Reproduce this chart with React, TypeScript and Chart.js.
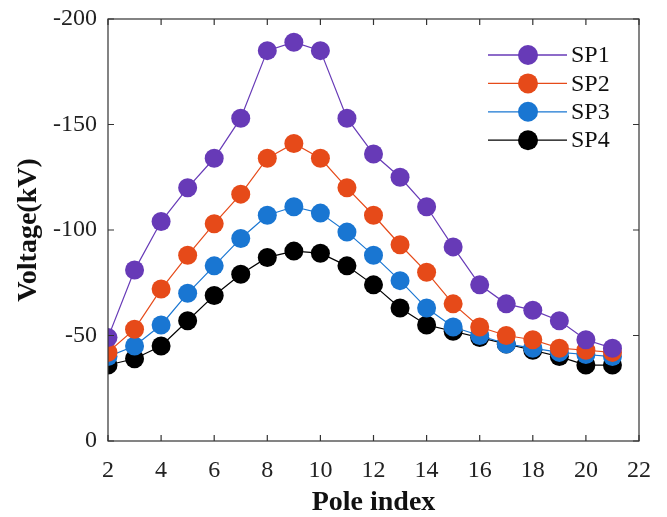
import React, { useEffect, useRef } from "react";
import { Chart, registerables } from "chart.js";

Chart.register(...registerables);

const poles = [2, 3, 4, 5, 6, 7, 8, 9, 10, 11, 12, 13, 14, 15, 16, 17, 18, 19, 20, 21];
const sp1 = [-49, -81, -104, -120, -134, -153, -185, -189, -185, -153, -136, -125, -111, -92, -74, -65, -62, -57, -48, -44];
const sp2 = [-42, -53, -72, -88, -103, -117, -134, -141, -134, -120, -107, -93, -80, -65, -54, -50, -48, -44, -43, -42];
const sp3 = [-40, -45, -55, -70, -83, -96, -107, -111, -108, -99, -88, -76, -63, -54, -50, -46, -44, -42, -41, -40];
const sp4 = [-36, -39, -45, -57, -69, -79, -87, -90, -89, -83, -74, -63, -55, -52, -49, -46, -43, -40, -36, -36];
const seriesNames = ["SP1", "SP2", "SP3", "SP4"];
const seriesColors = ["#673ab7", "#e64a19", "#1976d2", "#000000"];
const xTicks = [2, 4, 6, 8, 10, 12, 14, 16, 18, 20, 22];
const yTicks = [-200, -150, -100, -50, 0];

const FONT = "'Liberation Serif', 'Times New Roman', serif";

const framePlugin = {
  id: "frame",
  afterDatasetsDraw(chart: any) {
    const { ctx, chartArea } = chart;
    const { left, right, top, bottom } = chartArea;
    const xs = chart.scales.x;
    const ys = chart.scales.y;
    ctx.save();
    ctx.strokeStyle = "#333";
    ctx.lineWidth = 1.2;
    ctx.strokeRect(left, top, right - left, bottom - top);
    const t = 6;
    ctx.beginPath();
    xTicks.forEach((v) => {
      const px = xs.getPixelForValue(v);
      ctx.moveTo(px, bottom);
      ctx.lineTo(px, bottom - t);
      ctx.moveTo(px, top);
      ctx.lineTo(px, top + t);
    });
    yTicks.forEach((v) => {
      const py = ys.getPixelForValue(v);
      ctx.moveTo(left, py);
      ctx.lineTo(left + t, py);
      ctx.moveTo(right, py);
      ctx.lineTo(right - t, py);
    });
    ctx.stroke();

    // legend
    const lx0 = right - 151;
    const lx1 = right - 72;
    const mx = right - 111;
    const tx = right - 68;
    chart.data.datasets.forEach((ds: any, i: number) => {
      const y = top + 36 + i * 28.4;
      ctx.strokeStyle = ds.borderColor;
      ctx.lineWidth = 1.3;
      ctx.beginPath();
      ctx.moveTo(lx0, y);
      ctx.lineTo(lx1, y);
      ctx.stroke();
      ctx.fillStyle = ds.backgroundColor;
      ctx.beginPath();
      ctx.arc(mx, y, 10, 0, Math.PI * 2);
      ctx.fill();
      ctx.fillStyle = "#111";
      ctx.font = `24px ${FONT}`;
      ctx.textBaseline = "middle";
      ctx.textAlign = "left";
      ctx.fillText(ds.label, tx, y + 1);
    });
    ctx.restore();
  },
};

export default function App() {
  const ref = useRef<HTMLCanvasElement | null>(null);
  useEffect(() => {
    if (!ref.current) return;
    const data = [sp1, sp2, sp3, sp4];
    const chart = new Chart(ref.current, {
      type: "line",
      data: {
        datasets: data.map((vals, i) => ({
          label: seriesNames[i],
          data: vals.map((v, j) => ({ x: poles[j], y: v })),
          borderColor: seriesColors[i],
          backgroundColor: seriesColors[i],
          borderWidth: 1.2,
          pointRadius: 9.5,
          pointBorderWidth: 0,
          pointHoverRadius: 9.5,
          tension: 0,
        })),
      },
      options: {
        animation: false,
        responsive: false,
        devicePixelRatio: 1,
        layout: { padding: { left: 0, right: 28, top: 19, bottom: 0 } },
        plugins: { legend: { display: false }, tooltip: { enabled: false } },
        scales: {
          x: {
            type: "linear",
            min: 2,
            max: 22,
            afterBuildTicks: (s: any) => {
              s.ticks = xTicks.map((v) => ({ value: v }));
            },
            grid: { display: false, drawTicks: false },
            border: { display: false },
            ticks: {
              font: { family: FONT, size: 24 },
              color: "#222",
              padding: 15,
              maxRotation: 0,
            },
            title: {
              display: true,
              text: "Pole index",
              font: { family: FONT, size: 28, weight: "bold" },
              color: "#111",
              padding: { top: 0, bottom: -3 },
            },
            afterFit: (s: any) => {
              s.height = 76;
              s.paddingLeft = 0;
              s.paddingRight = 0;
            },
          },
          y: {
            type: "linear",
            min: -200,
            max: 0,
            reverse: true,
            afterBuildTicks: (s: any) => {
              s.ticks = yTicks.map((v) => ({ value: v }));
            },
            grid: { display: false, drawTicks: false },
            border: { display: false },
            ticks: {
              font: { family: FONT, size: 24 },
              color: "#222",
              padding: 11,
            },
            title: {
              display: true,
              text: "Voltage(kV)",
              font: { family: FONT, size: 28, weight: "bold" },
              color: "#111",
              padding: { top: 12, bottom: 0 },
            },
            afterFit: (s: any) => {
              s.width = 108;
              s.paddingTop = 0;
              s.paddingBottom = 0;
            },
          },
        },
      },
      plugins: [framePlugin],
    });
    return () => chart.destroy();
  }, []);
  return (
    <div style={{ position: "fixed", left: 0, top: 0, width: 667, height: 517, background: "#fff" }}>
      <canvas ref={ref} width={667} height={517} style={{ width: 667, height: 517 }} />
    </div>
  );
}
